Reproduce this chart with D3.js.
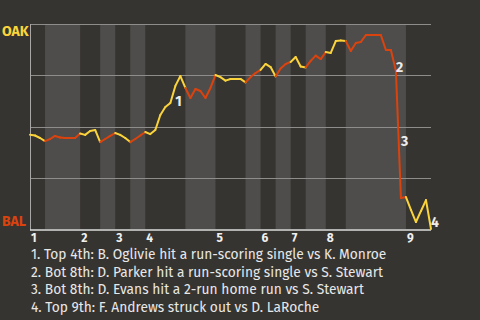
<!DOCTYPE html>
<html>
<head>
<meta charset="utf-8">
<script src="https://cdn.jsdelivr.net/npm/d3@7"></script>
<style>
  body { margin: 0; background: #363430; }
  text { font-family: "Fira Sans", "Open Sans", sans-serif; }
</style>
</head>
<body>
<div id="chart"></div>
<script>
// OAK win probability after each play (0 = BAL wins, 1 = OAK wins)
var winProb = [
  0.46, 0.456, 0.444, 0.429, 0.439, 0.454, 0.446, 0.444, 0.444, 0.444,
  0.466, 0.459, 0.478, 0.483, 0.424, 0.439, 0.454, 0.468, 0.459, 0.444,
  0.424, 0.439, 0.456, 0.473, 0.463, 0.483, 0.556, 0.595, 0.615, 0.698,
  0.746, 0.688, 0.639, 0.683, 0.673, 0.639, 0.688, 0.751, 0.741, 0.724,
  0.732, 0.732, 0.732, 0.715, 0.741, 0.761, 0.776, 0.805, 0.79, 0.744,
  0.783, 0.805, 0.815, 0.839, 0.793, 0.788, 0.82, 0.846, 0.829, 0.863,
  0.859, 0.917, 0.92, 0.917, 0.868, 0.907, 0.912, 0.946, 0.946, 0.946,
  0.946, 0.873, 0.873, 0.771, 0.151, 0.156, 0.093, 0.034, 0.088, 0.141,
  0.0
];
// play index where each half inning begins (last = end of game)
var halfBounds = [0, 3, 10, 14, 17, 20, 23, 31, 37, 43, 46, 49, 52, 55, 59, 63, 75, 80];
var innings = ['1', '2', '3', '4', '5', '6', '7', '8', '9'];
var teams = ['OAK', 'BAL'];
var keyPlays = [29, 73, 74, 80];
var keyNotes = [
  '1. Top 4th: B. Oglivie hit a run-scoring single vs K. Monroe',
  '2. Bot 8th: D. Parker hit a run-scoring single vs S. Stewart',
  '3. Bot 8th: D. Evans hit a 2-run home run vs S. Stewart',
  '4. Top 9th: F. Andrews struck out vs D. LaRoche'
];

(function () {
var width = 480, height = 320;
var plotLeft = 30, plotRight = 431, plotTop = 24, plotBottom = 229;
var yellow = '#fbd43c', orange = '#db430e';

var svg = d3.select('#chart').append('svg')
  .attr('width', width)
  .attr('height', height);

svg.append('rect').attr('width', width).attr('height', height).attr('fill', '#363430');

var x = d3.scaleLinear().domain([0, winProb.length - 1]).range([plotLeft, plotRight]);
var y = d3.scaleLinear().domain([0, 1]).range([plotBottom, plotTop]);

// shaded bottom halves
var halves = d3.range(halfBounds.length - 1).map(function (k) {
  return { k: k, a: halfBounds[k], b: halfBounds[k + 1] };
});
svg.selectAll('rect.band').data(halves.filter(function (d) { return d.k % 2 == 1; }))
  .enter().append('rect')
  .attr('class', 'band')
  .attr('x', function (d) { return x(d.a); })
  .attr('width', function (d) { return x(d.b) - x(d.a); })
  .attr('y', y(1))
  .attr('height', y(0) - y(1))
  .attr('fill', '#4e4d4b');

// grid
svg.selectAll('line.grid').data([0.25, 0.5, 0.75, 1])
  .enter().append('line')
  .attr('class', 'grid')
  .attr('x1', plotLeft).attr('x2', plotRight)
  .attr('y1', function (d) { return Math.round(y(d)) + 0.5; })
  .attr('y2', function (d) { return Math.round(y(d)) + 0.5; })
  .attr('stroke', '#8e8d8b')
  .attr('stroke-width', 1);

svg.append('line')
  .attr('x1', plotLeft + 0.5).attr('x2', plotLeft + 0.5)
  .attr('y1', y(1)).attr('y2', y(0) + 1)
  .attr('stroke', '#a8a7a5');
svg.append('line')
  .attr('x1', plotLeft).attr('x2', plotRight)
  .attr('y1', y(0) + 1).attr('y2', y(0) + 1)
  .attr('stroke', '#dcdcdc')
  .attr('stroke-width', 1.5);

// team labels
svg.append('text').attr('x', 2).attr('y', 36).text(teams[0])
  .attr('fill', yellow).attr('font-weight', 'bold').attr('font-size', 14);
svg.append('text').attr('x', 2).attr('y', 226).text(teams[1])
  .attr('fill', orange).attr('font-weight', 'bold').attr('font-size', 14);

// inning labels at the start of each top half
svg.selectAll('text.inning').data(innings)
  .enter().append('text')
  .attr('class', 'inning')
  .attr('x', function (d, i) { return x(halfBounds[i * 2]) + 1; })
  .attr('y', 242)
  .attr('fill', '#f0f0f0')
  .attr('font-weight', 'bold')
  .attr('font-size', 12)
  .text(function (d) { return d; });

// win probability line, one segment per play, coloured by batting team
function halfOf(i) {
  for (var k = 0; k < halfBounds.length - 1; k++) {
    if (i >= halfBounds[k] && i < halfBounds[k + 1]) return k;
  }
  return halfBounds.length - 2;
}
var segs = d3.range(winProb.length - 1);
svg.selectAll('line.seg').data(segs)
  .enter().append('line')
  .attr('class', 'seg')
  .attr('x1', function (i) { return x(i); })
  .attr('y1', function (i) { return y(winProb[i]); })
  .attr('x2', function (i) { return x(i + 1); })
  .attr('y2', function (i) { return y(winProb[i + 1]); })
  .attr('stroke', function (i) { return halfOf(i) % 2 == 0 ? yellow : orange; })
  .attr('stroke-width', 2)
  .attr('stroke-linecap', 'round');

// key play markers
svg.selectAll('text.key').data(keyPlays)
  .enter().append('text')
  .attr('class', 'key')
  .attr('x', function (i) { return (x(i) + x(i - 1)) / 2 + 2.5; })
  .attr('y', function (i) { return (y(winProb[i]) + y(winProb[i - 1])) / 2 + 12; })
  .attr('fill', '#ececec')
  .attr('font-weight', 'bold')
  .attr('font-size', 14)
  .text(function (d, i) { return i + 1; });

// notes, sized so the first line spans about 356px like the original
var notes = svg.selectAll('text.note').data(keyNotes)
  .enter().append('text')
  .attr('class', 'note')
  .attr('x', 31)
  .attr('y', function (d, i) { return 259 + i * 17.7; })
  .attr('fill', '#e8e8e8')
  .attr('font-size', 14)
  .text(function (d) { return d; });
var w = notes.node().getComputedTextLength();
if (w > 0) {
  var fs = Math.max(12, Math.min(16, 14 * 356 / w));
  notes.attr('font-size', fs);
}
})();
</script>
</body>
</html>
